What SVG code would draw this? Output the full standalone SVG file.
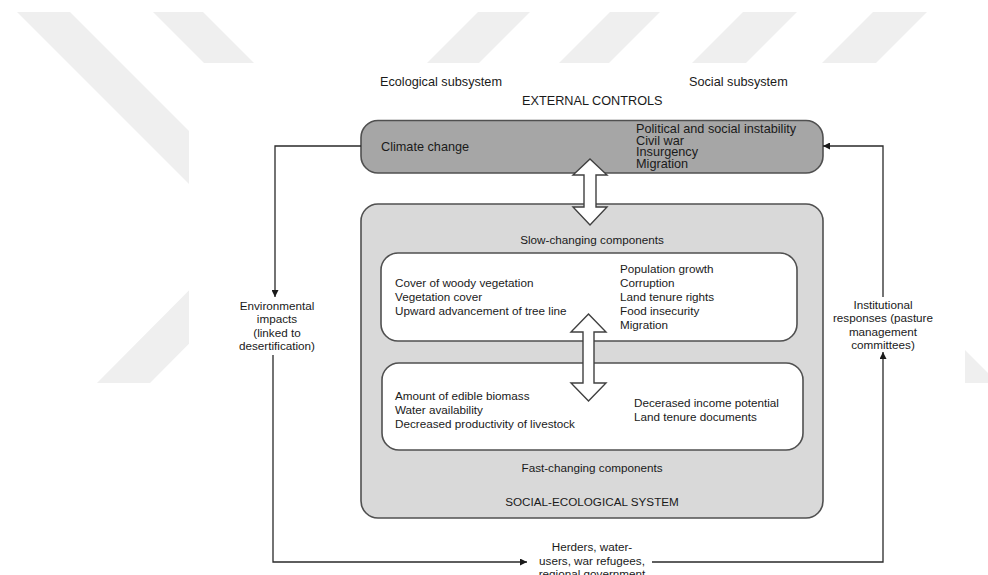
<svg xmlns="http://www.w3.org/2000/svg" width="988" height="575" viewBox="0 0 988 575">
<defs>
<style>
.t{font-family:"Liberation Sans",Arial,sans-serif;fill:#1a1a1a}
.big{font-size:12.7px}
.sm{font-size:11.7px}
.c{text-anchor:middle}
.wm{fill:#efefef}
.box{stroke:#505050;stroke-width:1.6}
.conn{fill:none;stroke:#2a2a2a;stroke-width:1.3}
.dbl{fill:#fff;stroke:#404040;stroke-width:1.4;stroke-linejoin:miter}
</style>
<marker id="ah" viewBox="0 0 10 10" refX="10" refY="5" markerWidth="8" markerHeight="7" orient="auto" markerUnits="userSpaceOnUse">
<path d="M0,0 L10,5 L0,10 z" fill="#1a1a1a"/>
</marker>
</defs>
<rect x="0" y="0" width="988" height="575" fill="#fff"/>
<g id="watermark">
<polygon class="wm" points="17,12 70,12 295,237 150,383 97,383 242,237"/>
<polygon class="wm" points="153,12 203,12 300,109 250,109"/>
<polygon class="wm" points="478,12 530,12 470,72 418,72"/>
<polygon class="wm" points="610,12 660,12 600,72 550,72"/>
<polygon class="wm" points="743,12 797,12 737,72 683,72"/>
<polygon class="wm" points="873,12 927,12 867,72 813,72"/>
<polygon class="wm" points="965,350 988,373 988,383 965,383"/>
<rect x="189" y="63" width="776" height="512" fill="#fff"/>
</g>
<g id="headers">
<text class="t big" x="380" y="86">Ecological subsystem</text>
<text class="t big" x="689" y="86">Social subsystem</text>
<text class="t big" x="522" y="105">EXTERNAL CONTROLS</text>
</g>
<g id="external-controls">
<rect class="box" x="361" y="120.5" width="462" height="52.5" rx="17" fill="#a6a6a6"/>
<text class="t big" x="381" y="151">Climate change</text>
<text class="t big" x="636" y="133">Political and social instability</text>
<text class="t big" x="636" y="144.5">Civil war</text>
<text class="t big" x="636" y="156">Insurgency</text>
<text class="t big" x="636" y="167.5">Migration</text>
</g>
<g id="social-ecological-system">
<rect class="box" x="361" y="204" width="462" height="314" rx="17" fill="#d9d9d9"/>
<text class="t sm c" x="592" y="244">Slow-changing components</text>
<text class="t sm c" x="592" y="471.5">Fast-changing components</text>
<text class="t sm c" x="592" y="505.5">SOCIAL-ECOLOGICAL SYSTEM</text>
</g>
<g id="slow-components">
<rect class="box" x="381" y="253" width="416" height="88" rx="17" fill="#fff"/>
<text class="t sm" x="395" y="287">Cover of woody vegetation</text>
<text class="t sm" x="395" y="301">Vegetation cover</text>
<text class="t sm" x="395" y="315">Upward advancement of tree line</text>
<text class="t sm" x="620" y="273">Population growth</text>
<text class="t sm" x="620" y="287">Corruption</text>
<text class="t sm" x="620" y="301">Land tenure rights</text>
<text class="t sm" x="620" y="315">Food insecurity</text>
<text class="t sm" x="620" y="329">Migration</text>
</g>
<g id="fast-components">
<rect class="box" x="382" y="363" width="421" height="87" rx="17" fill="#fff"/>
<text class="t sm" x="395" y="400">Amount of edible biomass</text>
<text class="t sm" x="395" y="414">Water availability</text>
<text class="t sm" x="395" y="427.5">Decreased productivity of livestock</text>
<text class="t sm" x="634" y="407">Decerased income potential</text>
<text class="t sm" x="634" y="421">Land tenure documents</text>
</g>
<g id="connectors">
<polygon class="dbl" points="590,159 607,175 596,175 596,207 607,207 590,225 573,207 584,207 584,175 573,175"/>
<polygon class="dbl" points="588.5,314 606,332 594,332 594,383 606,383 588.5,401 571,383 583,383 583,332 571,332"/>
<path class="conn" d="M361,146 H275 V297" marker-end="url(#ah)"/>
<path class="conn" d="M273,355 V562 H527" marker-end="url(#ah)"/>
<path class="conn" d="M652,562 H883 V352" marker-end="url(#ah)"/>
<path class="conn" d="M883,297 V146 H823" marker-end="url(#ah)"/>
</g>
<g id="labels">
<text class="t sm c" x="277" y="309.5">Environmental</text>
<text class="t sm c" x="277" y="323">impacts</text>
<text class="t sm c" x="277" y="336.5">(linked to</text>
<text class="t sm c" x="277" y="350">desertification)</text>
<text class="t sm c" x="883" y="308.5">Institutional</text>
<text class="t sm c" x="883" y="322">responses (pasture</text>
<text class="t sm c" x="883" y="335.5">management</text>
<text class="t sm c" x="883" y="349">committees)</text>
<text class="t sm c" x="592" y="551">Herders, water-</text>
<text class="t sm c" x="592" y="565">users, war refugees,</text>
<text class="t sm c" x="592" y="578">regional government</text>
</g>
</svg>
